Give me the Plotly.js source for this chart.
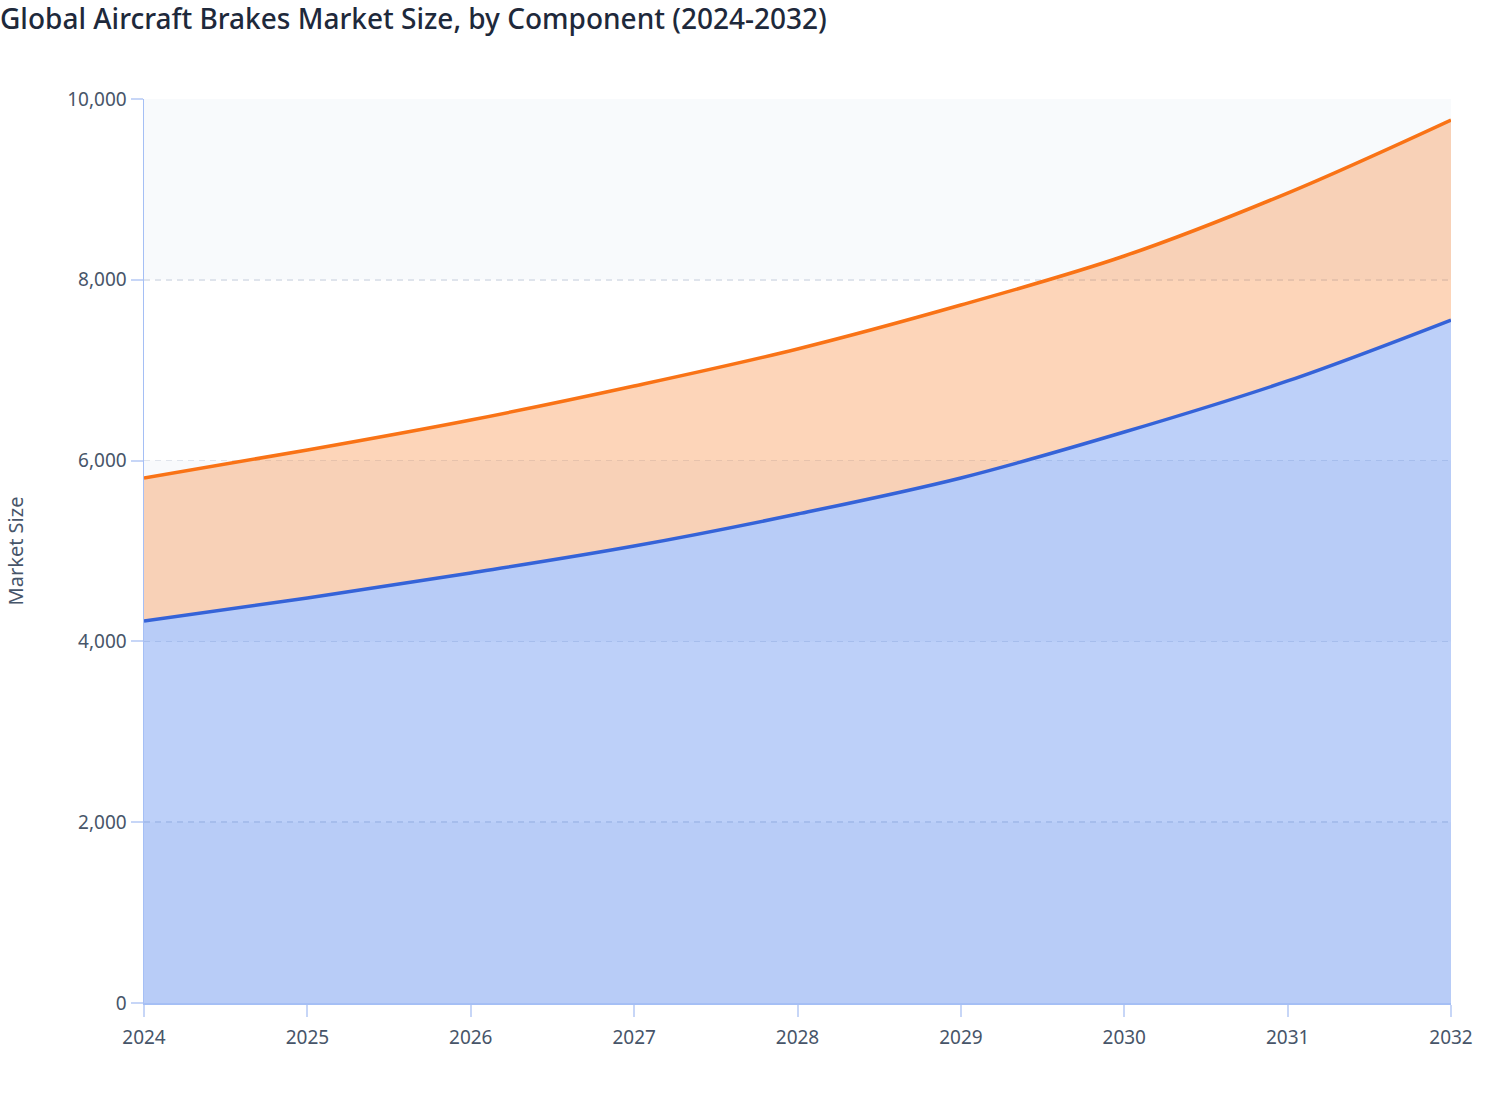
<!DOCTYPE html>
<html>
<head>
<meta charset="utf-8">
<script src="https://cdn.plot.ly/plotly-3.0.1.min.js"></script>
<style>
  html, body { margin: 0; padding: 0; background: #fff; }
  #chart { width: 1508px; height: 1120px; }
</style>
</head>
<body>
<div id="chart"></div>
<script>
// values
var years = [2024, 2025, 2026, 2027, 2028, 2029, 2030, 2031, 2032];
var seriesA = [4226, 4480, 4757, 5055, 5409, 5808, 6316, 6881, 7555];
var seriesB = [1582, 1637, 1692, 1770, 1826, 1913, 1947, 2079, 2213];
var yTicks = [0, 2000, 4000, 6000, 8000, 10000];

var traceA = {
  x: years,
  y: seriesA,
  type: 'scatter',
  mode: 'lines',
  stackgroup: 'one',
  line: { shape: 'spline', color: '#3563d8', width: 3.5 },
  fillcolor: 'rgba(37,99,235,0.3)',
  hoverinfo: 'x+y'
};

var traceB = {
  x: years,
  y: seriesB,
  type: 'scatter',
  mode: 'lines',
  stackgroup: 'one',
  line: { shape: 'spline', color: '#f97316', width: 3.5 },
  fillcolor: 'rgba(249,115,22,0.3)',
  hoverinfo: 'x+y'
};

// alternate horizontal bands behind the plot
var bands = [];
for (var i = 0; i < yTicks.length - 1; i += 2) {
  bands.push({
    type: 'rect', xref: 'paper', yref: 'y', layer: 'below',
    x0: 0, x1: 1, y0: yTicks[i], y1: yTicks[i + 1],
    fillcolor: '#f8fafc', line: { width: 0 }
  });
}

var layout = {
  width: 1508,
  height: 1120,
  margin: { l: 144, r: 57, t: 99, b: 117 },
  paper_bgcolor: '#ffffff',
  plot_bgcolor: '#ffffff',
  font: { family: '"Noto Sans", "Open Sans", sans-serif', color: '#475569', size: 19 },
  showlegend: false,
  title: {
    text: 'Global Aircraft Brakes Market Size, by Component (2024-2032)',
    font: { size: 28, color: '#1e293b', weight: 500 },
    xref: 'container', x: 0, xanchor: 'left',
    yref: 'container', y: 0.983, yanchor: 'middle'
  },
  xaxis: {
    range: [2024, 2032],
    tickvals: years,
    ticktext: years.map(String),
    showgrid: false,
    showline: true,
    linecolor: '#a5bff5',
    linewidth: 1.5,
    ticks: 'outside',
    ticklen: 12,
    tickcolor: '#c7d6f7',
    tickwidth: 2,
    ticklabelstandoff: 5,
    zeroline: false,
    tickfont: { size: 19, color: '#475569' }
  },
  yaxis: {
    range: [0, 10000],
    tickvals: yTicks,
    tickformat: ',d',
    showgrid: true,
    gridcolor: '#dfe4ec',
    griddash: '6px,5px',
    gridwidth: 1.5,
    showline: true,
    linecolor: '#a5bff5',
    linewidth: 1.5,
    ticks: 'outside',
    ticklen: 12,
    tickcolor: '#c7d6f7',
    tickwidth: 2,
    zeroline: false,
    tickfont: { size: 19, color: '#475569' },
    title: { text: 'Market Size', font: { size: 20, color: '#475569' }, standoff: 38 }
  },
  shapes: bands
};

Plotly.newPlot('chart', [traceA, traceB], layout, { displayModeBar: false, staticPlot: true });
</script>
</body>
</html>
